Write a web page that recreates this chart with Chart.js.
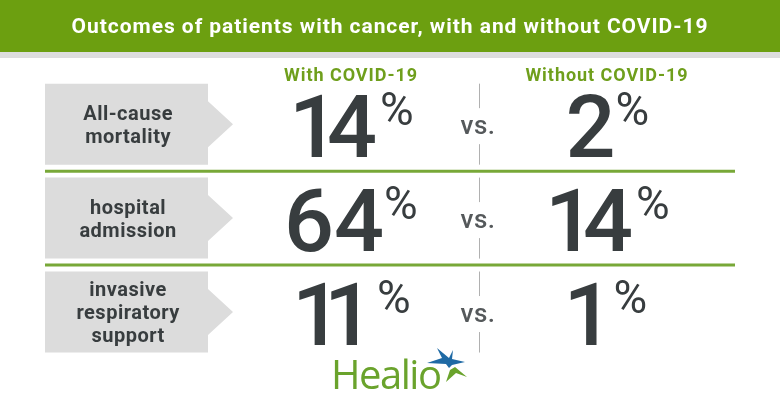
<!DOCTYPE html>
<html><head><meta charset="utf-8">
<style>html,body{margin:0;padding:0;background:#fff}#w{width:780px;height:405px;position:relative}</style>
<script src="https://cdn.jsdelivr.net/npm/chart.js@4"></script>
</head><body><div id="w"><canvas id="c" width="780" height="405"></canvas></div>
<script>
const chartTitle = 'Outcomes of patients with cancer, with and without COVID-19';
const groups = ['With COVID-19', 'Without COVID-19'];
const outcomes = ['All-cause mortality', 'hospital admission', 'invasive respiratory support'];
const outcomeLines = [['All-cause', 'mortality'], ['hospital', 'admission'], ['invasive', 'respiratory', 'support']];
const withCovid = [14, 64, 11];
const withoutCovid = [2, 14, 1];
const vsLabel = 'vs.';
const brand = 'Healio';

const GREEN = '#6c9f10', LINE = '#78a838', GRAY = '#dcdcdc', DARK = '#383d3f';
const FONT = 'Roboto';
const NUM = `500 88px ${FONT}`, PCT = `400 46px ${FONT}`;

function poly(c, pts) {
  c.beginPath();
  pts.forEach((p, i) => i ? c.lineTo(p[0], p[1]) : c.moveTo(p[0], p[1]));
  c.closePath(); c.fill();
}
function tightPair(s) { return s === '11' ? -18 : (s[0] === '1' && s.length > 1 ? -12 : 0); }

const decor = {
  id: 'decor',
  beforeDraw(ch) {
    const c = ch.ctx;
    c.save();
    c.fillStyle = GREEN; c.fillRect(0, 0, 780, 52);
    c.fillStyle = '#dddddd'; c.fillRect(0, 52, 780, 6);
    const y = ch.scales.y;
    outcomes.forEach(o => {
      const m = y.getPixelForValue(o);
      c.fillStyle = GRAY;
      poly(c, [[45, m - 40.5], [208, m - 40.5], [208, m - 23], [233, m], [208, m + 23], [208, m + 40.5], [45, m + 40.5]]);
    });
    c.restore();
    c.letterSpacing = '0.95px'; // tracking of title and column labels
    const orig = y.drawLabels;
    y.drawLabels = function (a) { c.letterSpacing = '0.5px'; orig.call(this, a); c.letterSpacing = '0.95px'; };
  },
  afterDatasetsDraw(ch) {
    const c = ch.ctx, x = ch.scales.x, y = ch.scales.y;
    c.save();
    c.letterSpacing = '0px';
    c.strokeStyle = LINE; c.lineWidth = 3;
    for (let i = 0; i < outcomes.length - 1; i++) {
      const p = (y.getPixelForValue(outcomes[i]) + y.getPixelForValue(outcomes[i + 1])) / 2;
      c.beginPath(); c.moveTo(45, p); c.lineTo(ch.chartArea.right, p); c.stroke();
    }
    const mid = (x.getPixelForValue(groups[0]) + x.getPixelForValue(groups[1])) / 2;
    outcomes.forEach(o => {
      const m = y.getPixelForValue(o);
      c.strokeStyle = '#b0b0b0'; c.lineWidth = 1;
      c.beginPath(); c.moveTo(mid + .5, m - 40.5); c.lineTo(mid + .5, m - 16);
      c.moveTo(mid + .5, m + 20); c.lineTo(mid + .5, m + 40.5); c.stroke();
      c.fillStyle = '#55595b'; c.font = `500 26px ${FONT}`;
      c.textAlign = 'center'; c.textBaseline = 'middle';
      c.letterSpacing = '0.5px';
      c.fillText(vsLabel, mid - 1, m + 3);
      c.letterSpacing = '0px';
    });
    c.textAlign = 'left'; c.textBaseline = 'alphabetic';
    ch.data.datasets.forEach(ds => {
      ds.data.forEach(d => {
        const cx = x.getPixelForValue(d.x), m = y.getPixelForValue(d.y);
        const num = String(d.v), sp = tightPair(num);
        c.font = NUM; c.letterSpacing = sp + 'px';
        const nm = c.measureText(num);
        const w = nm.width - sp + (sp < 0 ? 3 : 0);
        c.font = PCT; c.letterSpacing = '0px';
        const pm = c.measureText('%');
        const inkL = -nm.actualBoundingBoxLeft;
        const inkR = w + pm.actualBoundingBoxRight;
        const left = cx + (sp < 0 ? 3 : 1) - (inkL + inkR) / 2;
        c.fillStyle = DARK;
        c.font = NUM; c.letterSpacing = sp + 'px';
        c.fillText(num, left, m + 33);
        c.font = PCT; c.letterSpacing = '0px';
        c.fillText('%', left + w, m + 1);
      });
    });
    // logo
    c.fillStyle = '#6aa32c';
    c.font = '500 40px "Open Sans"';
    c.letterSpacing = '-1.5px';
    c.fillText(brand, 331, 389);
    c.letterSpacing = '0px';
    c.fillStyle = '#1f6aa5';
    poly(c, [[437,348],[449,358],[453,350],[452,359],[465,362],[452,365],[449,368],[446,364],[427,363],[442,358]]);
    c.fillStyle = '#6aa32c';
    poly(c, [[446,382],[450,370],[455,367],[467,377],[456,373]]);
    c.restore();
  }
};

const toPts = (vals, g) => vals.map((v, i) => ({ x: g, y: outcomes[i], v }));

new Chart(document.getElementById('c'), {
  type: 'line',
  data: {
    xLabels: groups,
    yLabels: outcomes,
    datasets: [
      { label: groups[0], data: toPts(withCovid, groups[0]), showLine: false, pointRadius: 0 },
      { label: groups[1], data: toPts(withoutCovid, groups[1]), showLine: false, pointRadius: 0 }
    ]
  },
  options: {
    responsive: false, animation: false,
    layout: { padding: { left: 45, right: 45, top: 0, bottom: 46 } },
    plugins: {
      legend: { display: false },
      tooltip: { enabled: false },
      title: {
        display: true, text: chartTitle, color: '#fff',
        font: { family: FONT, size: 21, weight: 'bold', lineHeight: 1.2 },
        padding: { top: 15, bottom: 13 }
      }
    },
    scales: {
      x: {
        type: 'category', position: 'top', labels: groups, offset: true,
        grid: { display: false, drawTicks: false }, border: { display: false },
        ticks: { color: '#6f9f1c', font: { family: FONT, size: 18, weight: 'bold' }, padding: -12, mirror: true, maxRotation: 0 },
        afterFit(s) { s.height = 24; s.paddingLeft = s.paddingRight = s.paddingTop = s.paddingBottom = 0; }
      },
      y: {
        type: 'category', position: 'left', labels: outcomes, offset: true,
        grid: { display: false, drawTicks: false }, border: { display: false },
        ticks: {
          color: DARK, crossAlign: 'center', padding: 46, labelOffset: 2,
          font: { family: FONT, size: 20, weight: 'bold', lineHeight: 1.16 },
          callback(v, i) { return outcomeLines[i]; }
        },
        afterFit(s) { s.width = 178; s.paddingLeft = s.paddingRight = s.paddingTop = s.paddingBottom = 0; }
      }
    }
  },
  plugins: [decor]
});
</script></body></html>
